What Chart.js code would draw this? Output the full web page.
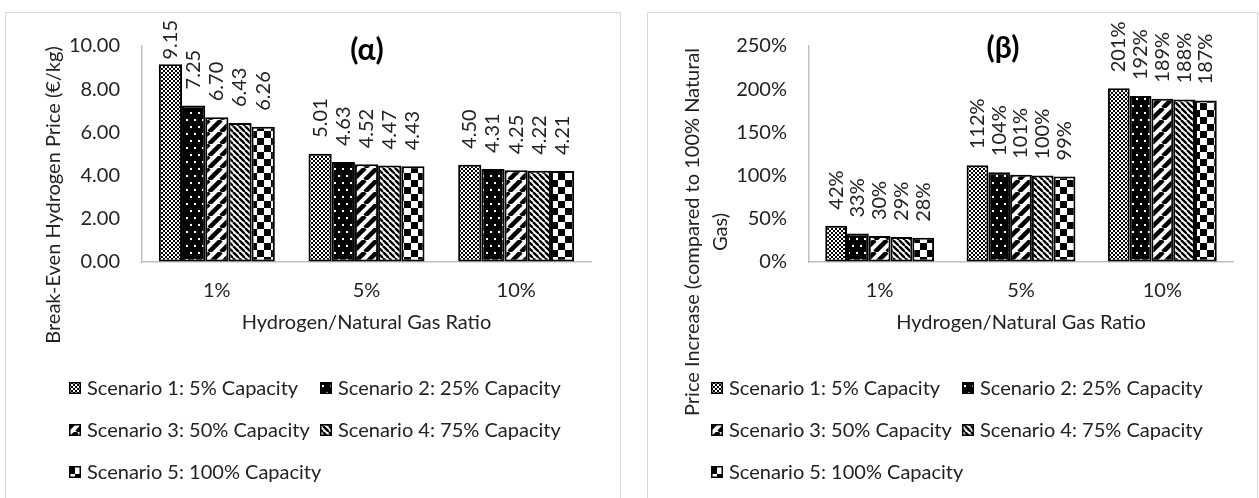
<!DOCTYPE html>
<html>
<head>
<meta charset="utf-8">
<script src="https://cdn.jsdelivr.net/npm/chart.js"></script>
<style>
  html, body { margin: 0; padding: 0; background: #fff; overflow: hidden; }
  body { width: 1259px; height: 498px; position: relative; }
  .frame { position: absolute; border: 1px solid #d9d9d9; box-sizing: border-box; }
  canvas { position: absolute; }
</style>
</head>
<body>
<div class="frame" style="left:5px;top:12px;width:616px;height:500px"></div>
<div class="frame" style="left:647px;top:12px;width:611px;height:500px"></div>
<canvas id="chartA" width="614" height="486" style="left:5px;top:12px"></canvas>
<canvas id="chartB" width="610" height="486" style="left:647px;top:12px"></canvas>
<script>
// categories and series
const ratios = ['1%', '5%', '10%'];
const scenarios = ['Scenario 1: 5% Capacity', 'Scenario 2: 25% Capacity', 'Scenario 3: 50% Capacity',
                   'Scenario 4: 75% Capacity', 'Scenario 5: 100% Capacity'];

// (α) break-even hydrogen price, €/kg
const priceS1 = [9.15, 5.01, 4.50];
const priceS2 = [7.25, 4.63, 4.31];
const priceS3 = [6.70, 4.52, 4.25];
const priceS4 = [6.43, 4.47, 4.22];
const priceS5 = [6.26, 4.43, 4.21];

// (β) price increase vs 100% natural gas, %
const incS1 = [42, 112, 201];
const incS2 = [33, 104, 192];
const incS3 = [30, 101, 189];
const incS4 = [29, 100, 188];
const incS5 = [28, 99, 187];

const FAMILY = 'Lato';
const TXT = '#222222';
const AXIS = '#bfbfbf';

// fill patterns like the excel ones
function tile(w, h, bg, draw) {
  const c = document.createElement('canvas');
  c.width = w; c.height = h;
  const g = c.getContext('2d');
  g.fillStyle = bg; g.fillRect(0, 0, w, h);
  draw(g);
  return document.createElement('canvas').getContext('2d').createPattern(c, 'repeat');
}
function diag(g, n, lw, up) {
  g.strokeStyle = '#000'; g.lineWidth = lw;
  for (let k = -1; k <= 1; k++) {
    g.beginPath();
    if (up) { g.moveTo(k * n, n); g.lineTo(k * n + n, 0); }
    else { g.moveTo(k * n, 0); g.lineTo(k * n + n, n); }
    g.stroke();
  }
}
const patterns = [
  tile(4, 4, '#fff', g => { g.fillStyle = '#000'; g.fillRect(0, 0, 2, 2); g.fillRect(2, 2, 2, 2); }),
  tile(8, 14, '#000', g => { g.fillStyle = '#fff'; g.fillRect(1, 2, 2, 2); g.fillRect(5, 9, 2, 2); }),
  tile(12, 12, '#fff', g => diag(g, 12, 4.5, true)),
  tile(6, 6, '#fff', g => diag(g, 6, 2.4, false)),
  tile(14, 14, '#fff', g => { g.fillStyle = '#000'; g.fillRect(0, 0, 7, 7); g.fillRect(7, 7, 7, 7); })
];

function datasets(series) {
  return series.map((vals, i) => ({
    label: scenarios[i],
    data: vals,
    backgroundColor: patterns[i],
    borderColor: '#000',
    borderWidth: 2,
    borderSkipped: false
  }));
}

// titles, data labels, y title and grid legend
const extras = {
  id: 'extras',
  afterDatasetsDraw(chart, args, o) {
    const ctx = chart.ctx;
    ctx.save();
    ctx.font = '20px ' + FAMILY;
    ctx.fillStyle = TXT;
    ctx.textAlign = 'left';
    ctx.textBaseline = 'middle';
    chart.data.datasets.forEach((ds, i) => {
      chart.getDatasetMeta(i).data.forEach((bar, j) => {
        const txt = o.fmt(ds.data[j]);
        const w = ctx.measureText(txt).width;
        let start = bar.y - 16;
        if (start - w < 8) start = 8 + w;
        ctx.save();
        ctx.translate(bar.x, start);
        ctx.rotate(-Math.PI / 2);
        ctx.fillText(txt, 0, 0);
        ctx.restore();
      });
    });
    ctx.restore();
  },
  afterDraw(chart, args, o) {
    const ctx = chart.ctx;
    ctx.save();
    ctx.fillStyle = '#000';
    ctx.textAlign = 'center';
    ctx.textBaseline = 'middle';
    ctx.font = 'bold 30px ' + FAMILY;
    ctx.fillText(o.title, o.titleX, o.titleY);

    ctx.fillStyle = TXT;
    ctx.font = '20px ' + FAMILY;
    o.yTitle.forEach((line, k) => {
      ctx.save();
      ctx.translate(o.yTitleX + k * 28, o.yTitleY);
      ctx.rotate(-Math.PI / 2);
      ctx.fillText(line, 0, 0);
      ctx.restore();
    });

    // legend, two columns
    ctx.textAlign = 'left';
    const cols = [64, 315], rows = [376, 418, 460];
    chart.data.datasets.forEach((ds, i) => {
      const x = cols[i % 2], y = rows[Math.floor(i / 2)];
      ctx.fillStyle = ds.backgroundColor;
      ctx.fillRect(x, y - 6, 12, 12);
      ctx.strokeStyle = '#000';
      ctx.lineWidth = 1.5;
      ctx.strokeRect(x + 0.75, y - 5.25, 10.5, 10.5);
      ctx.fillStyle = TXT;
      ctx.fillText(ds.label, x + 18, y + 1);
    });
    ctx.restore();
  }
};

function makeChart(id, series, opts) {
  return new Chart(document.getElementById(id), {
    type: 'bar',
    data: { labels: ratios, datasets: datasets(series) },
    options: {
      responsive: false,
      devicePixelRatio: 1,
      animation: false,
      categoryPercentage: opts.catPct,
      barPercentage: 1,
      layout: { padding: { left: 0, top: 30, right: opts.padRight, bottom: 156 } },
      plugins: {
        legend: { display: false },
        tooltip: { enabled: false },
        extras: opts.extras
      },
      scales: {
        x: {
          grid: { color: 'rgba(0,0,0,0)', drawTicks: false },
          border: { color: AXIS, width: 1.5 },
          ticks: { padding: 17, color: TXT, font: { family: FAMILY, size: 20 } },
          title: { display: true, text: 'Hydrogen/Natural Gas Ratio', color: TXT,
                   font: { family: FAMILY, size: 20 }, padding: { top: 0, bottom: 7 } },
          afterFit: s => { s.height = 80; }
        },
        y: {
          min: 0,
          max: opts.max,
          grid: { color: 'rgba(0,0,0,0)', drawTicks: false },
          border: { color: AXIS, width: 1.5 },
          ticks: { stepSize: opts.step, padding: 22, color: TXT,
                   font: { family: FAMILY, size: 20 }, callback: opts.tick },
          afterFit: s => { s.width = opts.yWidth; }
        }
      }
    },
    plugins: [extras]
  });
}

makeChart('chartA', [priceS1, priceS2, priceS3, priceS4, priceS5], {
  catPct: 0.775, padRight: 28, max: 10, step: 2, yWidth: 137,
  tick: v => v.toFixed(2),
  extras: {
    fmt: v => v.toFixed(2),
    title: '(α)', titleX: 362, titleY: 38,
    yTitle: ['Break-Even Hydrogen Price (€/kg)'], yTitleX: 49, yTitleY: 183
  }
});

makeChart('chartB', [incS1, incS2, incS3, incS4, incS5], {
  catPct: 0.77, padRight: 24, max: 250, step: 50, yWidth: 162,
  tick: v => v + '%',
  extras: {
    fmt: v => v + '%',
    title: '(β)', titleX: 356, titleY: 36,
    yTitle: ['Price Increase (compared to 100% Natural', 'Gas)'], yTitleX: 46, yTitleY: 220
  }
});
</script>
</body>
</html>
